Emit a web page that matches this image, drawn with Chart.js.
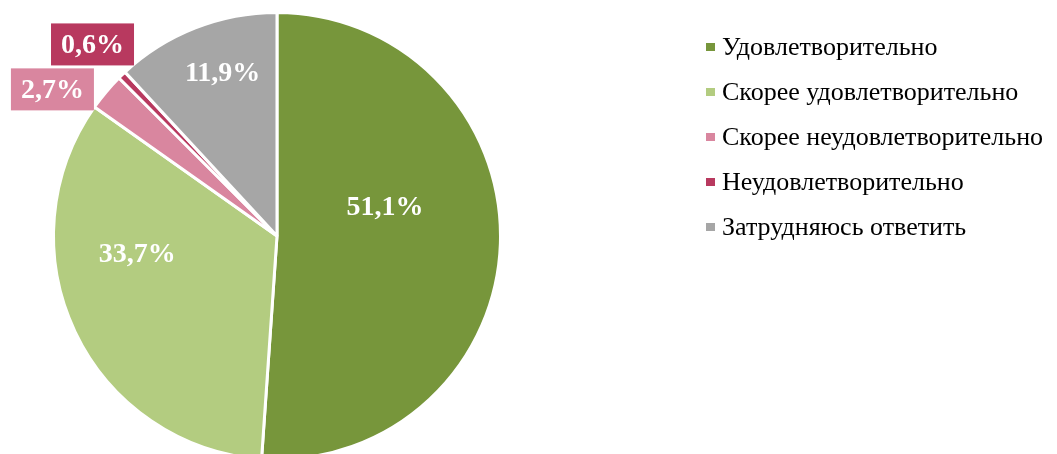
<!DOCTYPE html>
<html>
<head>
<meta charset="utf-8">
<script src="https://cdn.jsdelivr.net/npm/chart.js@4.4.0/dist/chart.umd.min.js"></script>
<style>
  html, body { margin: 0; padding: 0; background: #fff; overflow: hidden; }
  #wrap { width: 1057px; height: 474px; }
</style>
</head>
<body>
<div id="wrap"><canvas id="pie" width="1057" height="474"></canvas></div>
<script>
const categories = [
  "Удовлетворительно",
  "Скорее удовлетворительно",
  "Скорее неудовлетворительно",
  "Неудовлетворительно",
  "Затрудняюсь ответить"
];
const shares = [51.1, 33.7, 2.7, 0.6, 11.9];
const sliceColors = ["#77963B", "#B3CC80", "#D9869F", "#B8395F", "#A6A6A6"];

// label placement: angle shift from slice middle (deg), distance as share of radius, boxed or not
const labelShift = [-17, 18, -7, 0, 3];
const labelDist = [0.5, 0.63, 1.2, 1.19, 0.77];
const labelBoxed = [false, false, true, true, false];

const fmt = v => v.toFixed(1).replace(".", ",") + "%";

const sliceLabels = {
  id: "sliceLabels",
  afterDatasetsDraw(chart) {
    const ctx = chart.ctx;
    const arcs = chart.getDatasetMeta(0).data;
    ctx.save();
    ctx.font = "bold 28px 'Liberation Serif', 'Times New Roman', serif";
    ctx.textAlign = "center";
    ctx.textBaseline = "middle";
    arcs.forEach((arc, i) => {
      const p = arc.getProps(["x", "y", "startAngle", "endAngle", "outerRadius"], true);
      const a = (p.startAngle + p.endAngle) / 2 + labelShift[i] * Math.PI / 180;
      const r = p.outerRadius * labelDist[i];
      const x = p.x + Math.cos(a) * r;
      const y = p.y + Math.sin(a) * r;
      const txt = fmt(shares[i]);
      if (labelBoxed[i]) {
        const w = ctx.measureText(txt).width + 20;
        const h = 42;
        ctx.fillStyle = sliceColors[i];
        ctx.fillRect(x - w / 2, y - h / 2, w, h);
      }
      ctx.fillStyle = "#fff";
      ctx.fillText(txt, x, y + 1);
    });
    ctx.restore();
  }
};

const sideLegend = {
  id: "sideLegend",
  afterDraw(chart) {
    const ctx = chart.ctx;
    ctx.save();
    ctx.font = "26px 'Liberation Serif', 'Times New Roman', serif";
    ctx.textBaseline = "middle";
    ctx.textAlign = "left";
    categories.forEach((c, i) => {
      const y = 47 + i * 45;
      ctx.fillStyle = sliceColors[i];
      ctx.fillRect(706, y - 4, 9, 8);
      ctx.fillStyle = "#000";
      ctx.fillText(c, 722, y + 1);
    });
    ctx.restore();
  }
};

new Chart(document.getElementById("pie"), {
  type: "pie",
  data: {
    labels: categories,
    datasets: [{
      data: shares,
      backgroundColor: sliceColors,
      borderColor: "#fff",
      borderWidth: 3
    }]
  },
  options: {
    responsive: false,
    animation: false,
    layout: { padding: { left: 51, right: 554, top: 11, bottom: 13 } },
    plugins: {
      legend: { display: false },
      tooltip: { enabled: false }
    }
  },
  plugins: [sliceLabels, sideLegend]
});
</script>
</body>
</html>
